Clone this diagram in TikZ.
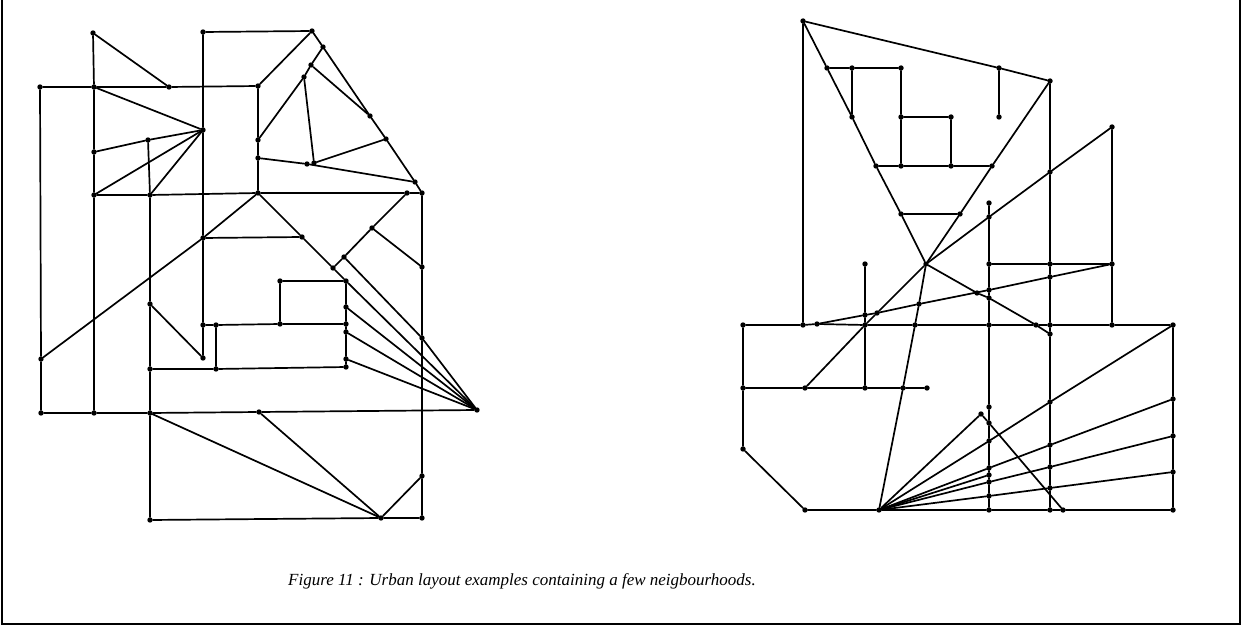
\documentclass[tikz,border=0pt]{standalone}
\usepackage{fontspec}
\setmainfont{Liberation Serif}
\begin{document}
\begin{tikzpicture}[x=1pt,y=-1pt,
  ln/.style={line width=1.7pt,line cap=round,line join=round},
  dot/.style={circle,fill,inner sep=0pt,minimum size=5.4pt},
  frm/.style={line width=1.3pt},
  captxt/.style={font=\fontsize{17}{20}\selectfont\itshape,anchor=base west,inner sep=0pt}]
\useasboundingbox (0,0) rectangle (1245,628);
% ---------- frame ----------
\coordinate (f1) at (2,0);
\coordinate (f2) at (2,624);
\coordinate (f3) at (1240,624);
\coordinate (f4) at (1240,0);
\draw[frm] (f1)--(f2)--(f3)--(f4);
% ---------- left layout ----------
\foreach \n/\x/\y in {a1/93/33,a2/203/32,a3/312/31,a4/323/47,a5/311/65,a6/304/77,
  a7/40/87,a8/94/87,a9/169/87,a10/258/86,a11/203/130,a12/148/140,a13/258/140,a14/94/152,
  a15/370/116,a16/386/139,a17/258/158,a18/307/164,a19/314/163,a20/415/182,
  a21/94/195,a22/150/195,a23/258/193,a24/407/193,a25/422/193,
  a26/203/238,a27/302/237,a28/372/228,a29/344/257,a30/333/268,a31/422/267,
  a32/280/281,a33/346/281,a34/150/304,a35/346/307,a36/203/325,a37/216/325,a38/280/324,
  a39/346/324,a40/346/332,a41/422/338,a42/41/359,a43/203/358,a44/346/359,
  a45/150/369,a46/216/369,a47/346/367,a48/41/413,a49/94/413,a50/150/413,a51/259/412,
  a52/477/410,a53/422/476,a54/381/518,a55/150/520,a56/422/518}
  {\node[dot] (\n) at (\x,\y) {};}
\draw[ln] (a1)--(a9);
\draw[ln] (a1)--(a8)--(a14)--(a21)--(a49);
\draw[ln] (a7)--(a8)--(a9)--(a10);
\draw[ln] (a7)--(a42)--(a48);
\draw[ln] (a2)--(a3);
\draw[ln] (a2)--(a11)--(a26)--(a36)--(a43);
\draw[ln] (a3)--(a10);
\draw[ln] (a3)--(a4)--(a15)--(a16)--(a20)--(a25);
\draw[ln] (a4)--(a5)--(a6);
\draw[ln] (a5)--(a15);
\draw[ln] (a6)--(a13);
\draw[ln] (a6)--(a19)--(a16);
\draw[ln] (a10)--(a13)--(a17)--(a23);
\draw[ln] (a17)--(a18)--(a20);
\draw[ln] (a8)--(a11);
\draw[ln] (a14)--(a12)--(a11);
\draw[ln] (a21)--(a11);
\draw[ln] (a22)--(a11);
\draw[ln] (a12)--(a22)--(a34)--(a45)--(a50)--(a55);
\draw[ln] (a21)--(a22)--(a23)--(a24)--(a25);
\draw[ln] (a23)--(a26)--(a42);
\draw[ln] (a23)--(a27)--(a30)--(a33)--(a52);
\draw[ln] (a26)--(a27);
\draw[ln] (a24)--(a28)--(a29)--(a30);
\draw[ln] (a28)--(a31);
\draw[ln] (a29)--(a41)--(a52);
\draw[ln] (a25)--(a31)--(a41)--(a53)--(a56);
\draw[ln] (a32)--(a33);
\draw[ln] (a32)--(a38);
\draw[ln] (a36)--(a37)--(a38)--(a39);
\draw[ln] (a33)--(a35)--(a39)--(a40)--(a44)--(a47);
\draw[ln] (a35)--(a52);
\draw[ln] (a40)--(a52);
\draw[ln] (a44)--(a52);
\draw[ln] (a34)--(a43);
\draw[ln] (a37)--(a46);
\draw[ln] (a45)--(a46)--(a47);
\draw[ln] (a48)--(a49)--(a50)--(a51)--(a52);
\draw[ln] (a51)--(a54);
\draw[ln] (a50)--(a54);
\draw[ln] (a54)--(a53);
\draw[ln] (a55)--(a54)--(a56);
% ---------- right layout ----------
\foreach \n/\x/\y in {b1/803/21,b2/999/68,b3/1050/81,b4/827/68,b5/852/68,b6/901/68,
  b7/999/117,b8/852/117,b9/901/117,b10/951/117,b11/1112/127,b12/876/166,b13/901/166,
  b14/951/166,b15/992/166,b16/1050/172,b17/989/203,b18/901/214,b19/960/214,b20/989/217,
  b21/926/264,b22/865/264,b23/989/264,b24/1050/264,b25/1112/264,b26/1050/277,
  b27/989/290,b28/977/293,b29/989/298,b30/919/304,b31/877/313,b32/865/315,
  b33/743/325,b34/803/325,b35/817/324,b36/865/325,b37/915/325,b38/989/325,b39/1036/325,
  b40/1050/325,b41/1112/325,b42/1173/325,b43/1050/334,
  b44/743/388,b45/805/388,b46/865/388,b47/903/388,b48/927/388,
  b49/989/407,b50/981/414,b52/1173/399,b53/989/423,b54/1173/436,b56/743/449,b58/1173/472,
  b59/805/510,b60/879/510,b61/989/510,b62/1050/510,b63/1063/510,b64/1173/510,
  c1/989/441,c2/1050/402,c3/989/468,c4/1050/445,c5/989/482,c6/1050/467,
  c7/989/496,c8/1050/488,c9/989/475}
  {\node[dot] (\n) at (\x,\y) {};}
\draw[ln] (b1)--(b34);
\draw[ln] (b1)--(b2)--(b3);
\draw[ln] (b2)--(b7);
\draw[ln] (b1)--(b4)--(b8)--(b12)--(b18)--(b21);
\draw[ln] (b4)--(b5)--(b6);
\draw[ln] (b5)--(b8);
\draw[ln] (b6)--(b9)--(b13);
\draw[ln] (b9)--(b10)--(b14);
\draw[ln] (b12)--(b13)--(b14)--(b15);
\draw[ln] (b3)--(b15)--(b19)--(b21);
\draw[ln] (b18)--(b19);
\draw[ln] (b3)--(b16)--(b24)--(b26)--(b40)--(b43)--(c2)--(c4)--(c6)--(c8)--(b62);
\draw[ln] (b11)--(b16)--(b20)--(b21);
\draw[ln] (b11)--(b25)--(b41);
\draw[ln] (b17)--(b20)--(b23)--(b27)--(b29)--(b38)--(b49)--(b53)--(c1)--(c3)--(c9)--(c5)--(c7)--(b61);
\draw[ln] (b23)--(b24)--(b25);
\draw[ln] (b35)--(b32)--(b31)--(b30)--(b27)--(b26)--(b25);
\draw[ln] (b21)--(b28)--(b29)--(b39)--(b43);
\draw[ln] (b45)--(b36)--(b31)--(b21);
\draw[ln] (b60)--(b47)--(b37)--(b30)--(b21);
\draw[ln] (b22)--(b32)--(b36)--(b46);
\draw[ln] (b33)--(b34)--(b35)--(b36)--(b37)--(b38)--(b39)--(b40)--(b41)--(b42);
\draw[ln] (b33)--(b44)--(b56)--(b59);
\draw[ln] (b44)--(b45)--(b46)--(b47)--(b48);
\draw[ln] (b59)--(b60)--(b61)--(b62)--(b63)--(b64);
\draw[ln] (b42)--(b52)--(b54)--(b58)--(b64);
\draw[ln] (b60)--(b50)--(b53)--(b63);
\draw[ln] (b60)--(c1)--(c2)--(b42);
\draw[ln] (b60)--(c3)--(c4)--(b52);
\draw[ln] (b60)--(c5)--(c6)--(b54);
\draw[ln] (b60)--(c7)--(c8)--(b58);
\draw[ln] (b60)--(c9);
% ---------- caption ----------
\node[captxt] (caption) at (288,585) {Figure 11 : Urban layout examples containing a few neigbourhoods.};
\end{tikzpicture}
\end{document}
